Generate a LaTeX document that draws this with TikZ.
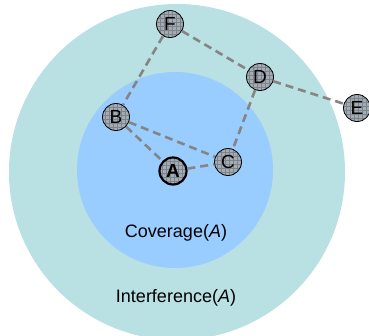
\documentclass[tikz,border=0pt]{standalone}
\usepackage{fontspec}
\setmainfont{Liberation Sans}

\definecolor{interf}{HTML}{B9E0E3}
\definecolor{cover}{HTML}{99CCFF}
\definecolor{nodegray}{HTML}{A4ABB2}
\definecolor{gridgray}{HTML}{7D858C}
\definecolor{linkgray}{HTML}{858585}

\tikzset{
    station/.style={circle, draw=black, thick, minimum size=27pt, inner sep=0pt,
        fill=nodegray,
        path picture={\draw[gridgray, line width=0.5pt]
            ([xshift=-1pt,yshift=1pt]path picture bounding box.south west) grid[step=4pt]
            (path picture bounding box.north east);},
        font=\fontsize{19}{19}\selectfont},
    link/.style={draw=linkgray, line width=2.6pt, dash pattern=on 8pt off 5pt}
}

\begin{document}
\begin{tikzpicture}[x=1pt, y=-1pt]
        \useasboundingbox (0,0) rectangle (369,335);
        \clip (0,0) rectangle (369,335);

        % areas de A
        \fill[interf] (177,172) circle (168);
        \fill[cover] (175,170) circle (98);

        % estacoes
        \node[station] (F) at (170,24) {F};
        \node[station] (D) at (260,77) {D};
        \node[station] (E) at (357,108) {E};
        \node[station] (B) at (116,117) {B};
        \node[station] (C) at (228,162) {C};
        \node[station, line width=2.2pt, font=\fontsize{19}{19}\selectfont\bfseries] (A) at (173,171) {A};

        % ligacoes
        \draw[link] (F) -- (B);
        \draw[link] (F) -- (D);
        \draw[link] (D) -- (E);
        \draw[link] (D) -- (C);
        \draw[link] (B) -- (C);
        \draw[link] (B) -- (A);
        \draw[link] (A) -- (C);

        % legendas
        \node[font=\fontsize{18}{18}\selectfont] (cov) at (176,233) {Coverage(\textit{A})};
        \node[font=\fontsize{18}{18}\selectfont] (int) at (176,298) {Interference(\textit{A})};
    \end{tikzpicture}
\end{document}
